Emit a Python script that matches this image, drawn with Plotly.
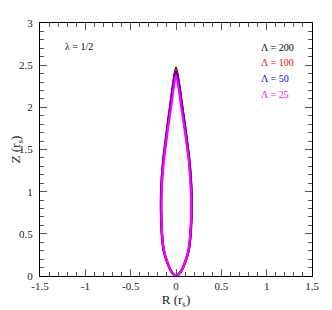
import plotly.graph_objects as go

# Teardrop contours, closed loops (R, Z)
Z_200 = [0.0, 0.05, 0.15, 0.30, 0.50, 0.75, 1.05, 1.35, 1.70, 2.05, 2.30, 2.47,
         2.30, 2.05, 1.70, 1.35, 1.05, 0.75, 0.50, 0.30, 0.15, 0.05, 0.0]
R_200 = [0.0, 0.052, 0.097, 0.140, 0.162, 0.172, 0.170, 0.150, 0.110, 0.064, 0.031, 0.0,
         -0.029, -0.060, -0.104, -0.143, -0.163, -0.166, -0.157, -0.136, -0.093, -0.049, 0.0]

Z_100 = [0.0, 0.05, 0.15, 0.30, 0.50, 0.75, 1.05, 1.35, 1.70, 2.05, 2.30, 2.46,
         2.30, 2.05, 1.70, 1.35, 1.05, 0.75, 0.50, 0.30, 0.15, 0.05, 0.0]
R_100 = [0.0, 0.052, 0.096, 0.139, 0.161, 0.171, 0.169, 0.149, 0.109, 0.063, 0.030, 0.0,
         -0.028, -0.059, -0.103, -0.142, -0.162, -0.165, -0.156, -0.135, -0.092, -0.049, 0.0]

Z_50 = [0.0, 0.05, 0.15, 0.30, 0.50, 0.75, 1.05, 1.35, 1.70, 2.05, 2.28, 2.42,
        2.28, 2.05, 1.70, 1.35, 1.05, 0.75, 0.50, 0.30, 0.15, 0.05, 0.0]
R_50 = [0.0, 0.051, 0.095, 0.137, 0.159, 0.169, 0.166, 0.146, 0.105, 0.059, 0.028, 0.0,
        -0.026, -0.055, -0.099, -0.139, -0.159, -0.163, -0.154, -0.133, -0.091, -0.048, 0.0]

Z_25 = [0.0, 0.05, 0.15, 0.30, 0.50, 0.75, 1.05, 1.35, 1.70, 2.03, 2.25, 2.38,
        2.25, 2.03, 1.70, 1.35, 1.05, 0.75, 0.50, 0.30, 0.15, 0.05, 0.0]
R_25 = [0.0, 0.051, 0.094, 0.136, 0.157, 0.167, 0.163, 0.142, 0.100, 0.055, 0.025, 0.0,
        -0.023, -0.051, -0.095, -0.136, -0.157, -0.161, -0.153, -0.132, -0.090, -0.048, 0.0]

labels = ["Λ = 200", "Λ = 100", "Λ = 50", "Λ = 25"]
colors = ["#000000", "#ff0000", "#0000ff", "#ff00ff"]
label_z = [2.71, 2.53, 2.34, 2.15]
series = [(R_200, Z_200), (R_100, Z_100), (R_50, Z_50), (R_25, Z_25)]

x_ticks = [-1.5, -1, -0.5, 0, 0.5, 1, 1.5]
y_ticks = [0, 0.5, 1, 1.5, 2, 2.5, 3]

fig = go.Figure()
for (r, z), c, name in zip(series, colors, labels):
    fig.add_trace(go.Scatter(x=r, y=z, mode="lines", name=name,
                             line=dict(color=c, width=2.2, shape="spline", smoothing=0.8),
                             showlegend=False, hoverinfo="skip"))

font_family = "Liberation Serif, Times New Roman, DejaVu Serif, serif"
for txt, c, z in zip(labels, colors, label_z):
    fig.add_annotation(x=0.92, y=z, text=txt, showarrow=False, xanchor="left",
                       yanchor="middle", font=dict(family=font_family, size=10, color=c))
fig.add_annotation(x=-1.25, y=2.72, text="λ = 1/2", showarrow=False, xanchor="left",
                   yanchor="middle", font=dict(family=font_family, size=10, color="#000"))

axis_common = dict(showgrid=False, zeroline=False, showline=True, linecolor="#000",
                   linewidth=1, mirror="ticks", ticks="inside", ticklen=7, tickwidth=1,
                   tickcolor="#555", automargin=False,
                   tickfont=dict(family=font_family, size=11, color="#222"),
                   minor=dict(ticks="inside", ticklen=4, tickcolor="#555", tickwidth=1, dtick=0.1))

fig.update_xaxes(range=[-1.5, 1.5], tickvals=x_ticks,
                 ticktext=[str(v) for v in x_ticks],
                 title=dict(text="R (r<sub>s</sub>)", font=dict(family=font_family, size=13, color="#222"),
                            standoff=0),
                 **axis_common)
fig.update_yaxes(range=[0, 3], tickvals=y_ticks,
                 ticktext=[str(v) for v in y_ticks],
                 ticklabelstandoff=4,
                 title=dict(text="Z (r<sub>s</sub>)", font=dict(family=font_family, size=13, color="#222"),
                            standoff=0),
                 **axis_common)

# page body adds an 8px offset, so the figure is sized to the visible area
fig.update_layout(width=324, height=302, margin=dict(l=32, r=20, t=15, b=34, pad=0),
                  plot_bgcolor="white", paper_bgcolor="white")

fig.write_html("out.html")
